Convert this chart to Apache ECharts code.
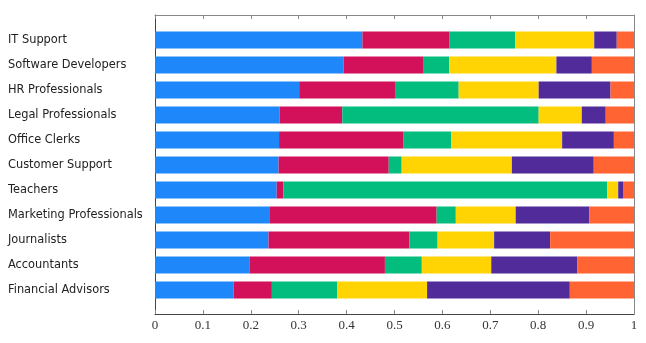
<!DOCTYPE html>
<html><head><meta charset="utf-8">
<script src="https://cdn.jsdelivr.net/npm/echarts@6/dist/echarts.min.js"></script>
<style>html,body{margin:0;padding:0;background:#fff}#c{width:646px;height:343px}</style>
</head><body><div id="c"></div>
<script>
const categories = ["IT Support","Software Developers","HR Professionals","Legal Professionals","Office Clerks","Customer Support","Teachers","Marketing Professionals","Journalists","Accountants","Financial Advisors"];
const s1 = [0.433,0.394,0.301,0.260,0.259,0.258,0.254,0.240,0.237,0.198,0.164];
const s2 = [0.181,0.167,0.200,0.131,0.259,0.230,0.014,0.348,0.294,0.282,0.080];
const s3 = [0.138,0.053,0.133,0.410,0.100,0.027,0.676,0.040,0.059,0.077,0.136];
const s4 = [0.165,0.224,0.167,0.090,0.232,0.230,0.023,0.125,0.118,0.145,0.188];
const s5 = [0.047,0.074,0.150,0.050,0.108,0.171,0.010,0.154,0.117,0.180,0.298];
const s6 = [0.036,0.088,0.049,0.059,0.042,0.084,0.023,0.093,0.175,0.118,0.134];
const xTicks = ["0","0.1","0.2","0.3","0.4","0.5","0.6","0.7","0.8","0.9","1"];
const colors = ["#1e87fa","#d2115a","#02bd7e","#ffd402","#512b9a","#ff6432"];

const chart = echarts.init(document.getElementById('c'));
const mk = (d,i) => ({type:'bar', stack:'a', data:d, barWidth:17, xAxisIndex:2, yAxisIndex:2,
  itemStyle:{color:colors[i]}, emphasis:{disabled:true}});
chart.setOption({
  animation:false,
  grid:[{left:155,right:12,top:15,bottom:29},
        {left:155,right:12,top:27.5,bottom:40.5}],
  xAxis:[{gridIndex:0,type:'value',min:0,max:1,interval:0.1,position:'bottom',
    axisLine:{show:true,onZero:false,lineStyle:{color:'#444'}},
    axisTick:{show:true,inside:true,length:4,lineStyle:{color:'#888'}},
    splitLine:{show:false},
    axisLabel:{fontFamily:'Liberation Serif',fontSize:13,color:'#333',margin:5,
      formatter:(v)=>xTicks[Math.round(v*10)]}},
   {gridIndex:0,type:'value',min:0,max:1,interval:0.1,position:'top',
    axisLine:{show:true,onZero:false,lineStyle:{color:'#888'}},
    axisTick:{show:true,inside:true,length:4,lineStyle:{color:'#888'}},
    splitLine:{show:false},axisLabel:{show:false}},
   {gridIndex:1,type:'value',min:0,max:1,show:false}],
  yAxis:[{gridIndex:0,type:'value',min:0,max:1,position:'left',
    axisLine:{show:true,onZero:false,lineStyle:{color:'#444'}},axisTick:{show:false},
    axisLabel:{show:false},splitLine:{show:false}},
   {gridIndex:0,type:'value',min:0,max:1,position:'right',
    axisLine:{show:true,onZero:false,lineStyle:{color:'#888'}},axisTick:{show:false},
    axisLabel:{show:false},splitLine:{show:false}},
   {gridIndex:1,type:'category',data:categories,inverse:true,
    axisLine:{show:false},axisTick:{show:false},
    axisLabel:{align:'left',margin:147,fontFamily:'DejaVu Sans',fontSize:11.4,color:'#222'}}],
  series:[mk(s1,0),mk(s2,1),mk(s3,2),mk(s4,3),mk(s5,4),mk(s6,5)]
});
</script></body></html>
